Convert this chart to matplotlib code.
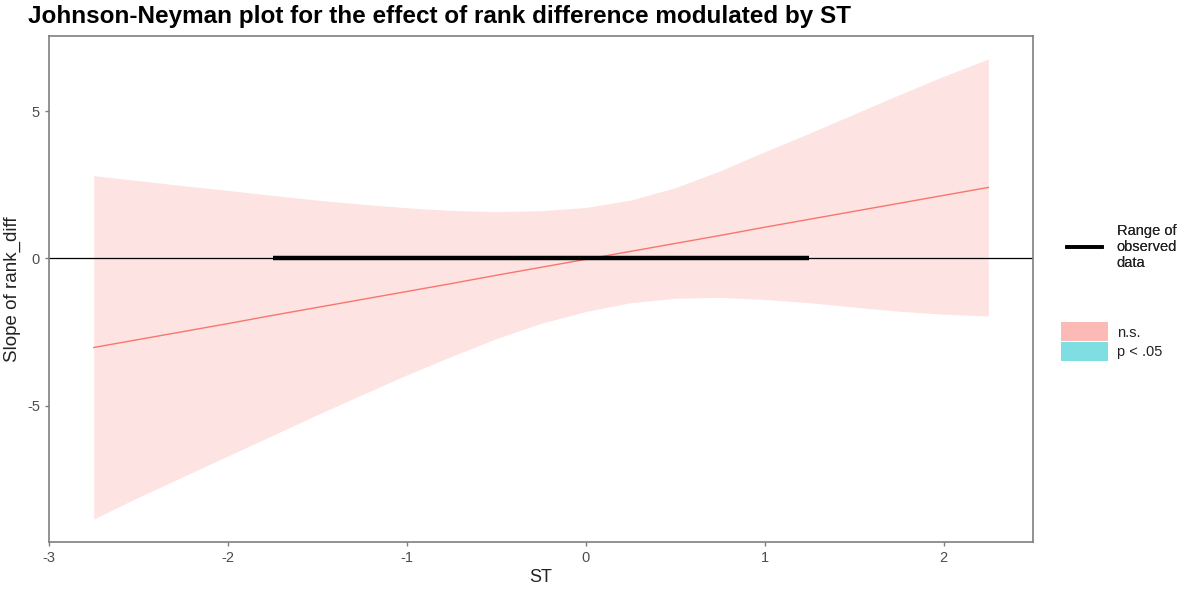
import numpy as np
import matplotlib.pyplot as plt
from matplotlib.lines import Line2D
from matplotlib.patches import Patch

plt.rcParams['font.family'] = ['Liberation Sans', 'DejaVu Sans']

# Значения
st = [-2.75, -2.5, -2.25, -2.0, -1.75, -1.5, -1.25, -1.0, -0.75, -0.5, -0.25,
      0.0, 0.25, 0.5, 0.75, 1.0, 1.25, 1.5, 1.75, 2.0, 2.25]
slope = [-3.02, -2.75, -2.48, -2.21, -1.93, -1.66, -1.39, -1.12, -0.85, -0.57, -0.30,
         -0.03, 0.24, 0.51, 0.78, 1.06, 1.33, 1.60, 1.87, 2.14, 2.41]
upper = [2.81, 2.64, 2.47, 2.31, 2.14, 1.98, 1.84, 1.72, 1.63, 1.59, 1.62,
         1.73, 1.98, 2.40, 2.97, 3.62, 4.25, 4.90, 5.55, 6.18, 6.77]
lower = [-8.84, -8.10, -7.40, -6.70, -6.00, -5.30, -4.62, -3.95, -3.32, -2.72, -2.20,
         -1.80, -1.50, -1.35, -1.32, -1.39, -1.50, -1.65, -1.79, -1.89, -1.95]
observed_range = [-1.75, 1.25]

x_ticks = [-3, -2, -1, 0, 1, 2]
y_ticks = [-5, 0, 5]

ns_color = '#F8766D'
sig_color = '#00BFC4'
grey = '#7F7F7F'

fig = plt.figure(figsize=(11.87, 5.94), dpi=100)
ax = fig.add_axes([0.0413, 0.0875, 0.829, 0.852])

# Доверительная полоса и линия наклона
ax.fill_between(st, lower, upper, color=ns_color, alpha=0.2, linewidth=0)
ax.plot(st, slope, color=ns_color, linewidth=1)

# Нулевая линия и диапазон наблюдаемых данных
ax.axhline(0, color='black', linewidth=0.9)
ax.plot(observed_range, [0, 0], color='black', linewidth=3.2, solid_capstyle='butt')

ax.set_xlim(-3.0, 2.5)
ax.set_ylim(-9.62, 7.55)
ax.set_xticks(x_ticks)
ax.set_yticks(y_ticks)
ax.set_xticklabels([str(v) for v in x_ticks])
ax.set_yticklabels([str(v) for v in y_ticks])

for sp in ax.spines.values():
    sp.set_color(grey)
    sp.set_linewidth(1.2)
ax.tick_params(colors=grey, labelcolor='#4D4D4D', labelsize=10.5, length=3, width=1)

ax.set_xlabel('ST', fontsize=13, color='#222222', labelpad=3)
ax.set_ylabel('Slope of rank_diff', fontsize=13.5, color='#222222', labelpad=4)
fig.text(0.0236, 0.972, 'Johnson-Neyman plot for the effect of rank difference modulated by ST',
         fontsize=17.5, fontweight='bold', va='center', ha='left')

# Легенды
leg1 = fig.legend(handles=[Line2D([0], [0], color='black', linewidth=2.6)],
                  labels=['Range of\nobserved\ndata'], loc='center left',
                  bbox_to_anchor=(0.888, 0.584), frameon=False, fontsize=10.5,
                  handlelength=2.4, handletextpad=1.0, labelcolor='#222222')
leg1.get_texts()[0].set_linespacing(1.15)
leg2 = fig.legend(handles=[Patch(facecolor=ns_color, alpha=0.5, linewidth=0),
                           Patch(facecolor=sig_color, alpha=0.5, linewidth=0)],
                  labels=['n.s.', 'p < .05'], loc='center left',
                  bbox_to_anchor=(0.883, 0.425), frameon=False, fontsize=10.5,
                  handlelength=3.2, handleheight=1.6, handletextpad=0.6,
                  labelspacing=0.05, labelcolor='#222222')
fig.add_artist(leg1)

plt.savefig('out.png', dpi=100)
